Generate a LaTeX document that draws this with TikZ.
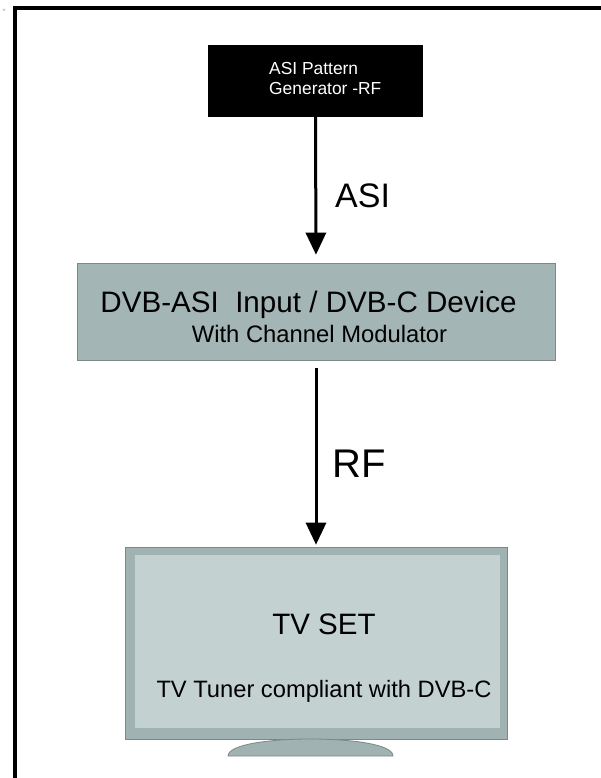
\documentclass[tikz,border=0pt]{standalone}
\usepackage{fontspec}
\setmainfont{Liberation Sans}
\usetikzlibrary{arrows.meta}
\definecolor{devfill}{RGB}{164,181,181}
\definecolor{bezel}{RGB}{160,178,178}
\definecolor{screen}{RGB}{196,209,209}
\definecolor{edgegray}{RGB}{125,135,135}
\tikzset{
  conn/.style={line width=3pt,-{Triangle[width=20pt,length=22pt]}},
  lbl/.style={inner sep=0pt,anchor=base},
}
\begin{document}
\begin{tikzpicture}[x=1pt,y=-1pt]
\useasboundingbox (0,0) rectangle (601,778);
% frame
\fill[gray!40] (4,10) circle (1.5);
\draw[line width=4pt] (15,790) -- (15,8) -- (610,8);
% generator
\node[fill=black,minimum width=215pt,minimum height=72pt,inner sep=0pt] (gen) at (315.5,81) {};
\node[lbl,anchor=base west,text=white,font=\fontsize{17.4}{20}\selectfont] (gen1) at (269,75) {ASI Pattern};
\node[lbl,anchor=base west,text=white,font=\fontsize{17.4}{20}\selectfont] (gen2) at (269,95) {Generator -RF};
% device
\node[fill=devfill,draw=edgegray,line width=0.6pt,minimum width=478pt,minimum height=97pt,inner sep=0pt] (dev) at (316,311.5) {};
\node[lbl,font=\fontsize{29.6}{32}\selectfont] (dev1) at (308.5,312) {DVB-ASI\ \ Input / DVB-C Device};
\node[lbl,font=\fontsize{23.8}{26}\selectfont] (dev2) at (319.5,342) {With Channel Modulator};
% TV
\node[fill=bezel,draw=edgegray,line width=0.6pt,minimum width=382pt,minimum height=192pt,inner sep=0pt] (tv) at (316,643) {};
\fill[screen] (135,555) rectangle (500,728);
\draw[edgegray,fill=bezel,line width=0.8pt] (228,756) .. controls (228,744) and (272,739) .. (310,739) .. controls (350,739) and (393,744) .. (393,756) -- cycle;
\node[lbl,font=\fontsize{29.5}{32}\selectfont] (tv1) at (324,634) {TV SET};
\node[lbl,font=\fontsize{23.7}{26}\selectfont] (tv2) at (324,697) {TV Tuner compliant with DVB-C};
% connectors
\draw[conn,shorten >=8pt] (gen.south) -- (dev.north);
\draw[conn,shorten <=8pt,shorten >=2pt] (dev.south) -- (tv.north);
\node[lbl,anchor=base west,font=\fontsize{34}{36}\selectfont] (asi) at (335,207) {ASI};
\node[lbl,anchor=base west,font=\fontsize{40}{42}\selectfont] (rf) at (332,477) {RF};
\end{tikzpicture}
\end{document}
